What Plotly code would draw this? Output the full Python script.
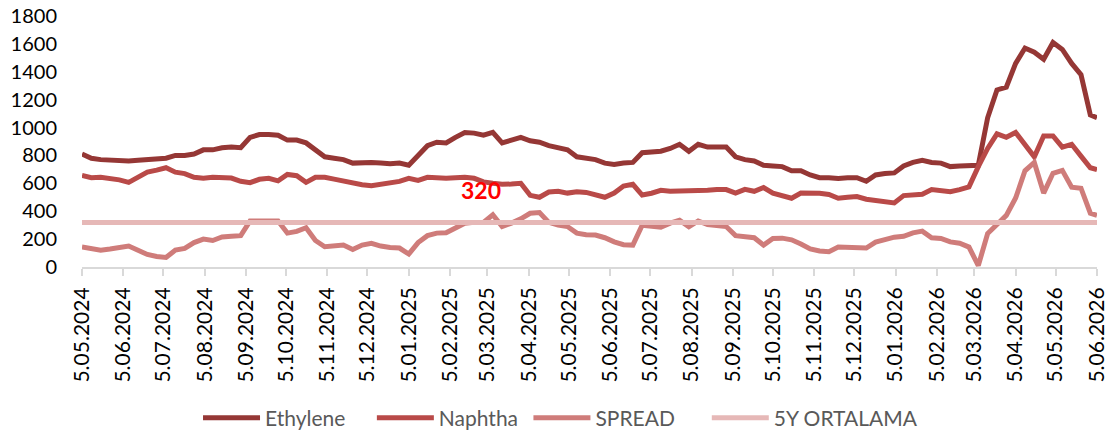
import pandas as pd
import plotly.graph_objects as go

# weekly observations starting 5 May 2024, plus final observation 5 Jun 2026
dates = list(pd.date_range("2024-05-05", periods=109, freq="7D")) + [pd.Timestamp("2026-06-05")]

ethylene = [810, 780, 770, 765, 760, 760, 765, 770, 770, 780,
            800, 800, 810, 840, 840, 855, 860, 855, 930, 950,
            950, 945, 910, 910, 890, 840, 790, 780, 770, 745,
            750, 750, 745, 740, 745, 730, 800, 870, 895, 890,
            930, 965, 960, 945, 965, 890, 910, 930, 905, 895,
            870, 855, 840, 790, 780, 770, 745, 735, 745, 750,
            820, 825, 830, 850, 880, 830, 880, 860, 860, 860,
            790, 770, 760, 730, 725, 720, 690, 690, 660, 640,
            640, 635, 640, 640, 615, 660, 670, 675, 725, 750,
            765, 750, 745, 720, 725, 725, 730, 1070, 1270, 1290,
            1460, 1570, 1540, 1490, 1610, 1560, 1460, 1380, 1090, 1070]

naphtha = [657, 640, 643, 635, 625, 607, 645, 680, 695, 712,
           680, 670, 643, 636, 643, 640, 638, 615, 605, 629,
           636, 618, 664, 655, 607, 643, 643, 630, 615, 605,
           590, 582, 595, 600, 614, 636, 621, 643, 638, 636,
           640, 643, 636, 610, 600, 593, 595, 600, 514, 500,
           538, 543, 530, 540, 535, 515, 500, 530, 580, 593,
           516, 529, 550, 543, 543, 543, 543, 550, 555, 555,
           530, 557, 543, 570, 530, 515, 493, 530, 530, 529,
           520, 493, 500, 505, 486, 480, 470, 460, 512, 514,
           521, 555, 543, 540, 555, 575, 720, 850, 955, 930,
           965, 880, 790, 940, 940, 860, 880, 795, 712, 698]

spread = [143, 130, 121, 129, 140, 150, 120, 90, 75, 68,
          121, 133, 175, 200, 190, 215, 220, 225, 330, 330,
          325, 330, 243, 255, 282, 190, 145, 150, 157, 125,
          157, 170, 150, 140, 136, 93, 175, 225, 243, 245,
          275, 314, 320, 320, 375, 290, 315, 345, 385, 390,
          320, 300, 290, 243, 232, 229, 210, 180, 160, 157,
          300, 293, 285, 314, 336, 288, 330, 305, 300, 290,
          225, 214, 210, 157, 205, 207, 195, 165, 130, 115,
          110, 143, 138, 136, 136, 178, 200, 214, 220, 245,
          257, 210, 205, 180, 170, 143, 10, 240, 305, 370,
          495, 690, 750, 530, 672, 693, 572, 565, 386, 371]

avg_5y = [320] * len(dates)
avg_label = "320"

tick_dates = list(pd.date_range("2024-05-01", periods=26, freq="MS") + pd.Timedelta(days=4))
tick_labels = [d.strftime("%-d.%m.%Y") for d in tick_dates]

names = ["Ethylene", "Naphtha", "SPREAD", "5Y ORTALAMA"]
legend_pad = [4, 1, 5, 0]  # trailing non-breaking spaces for legend spacing
colors = ["#953735", "#B94A48", "#CF7C7A", "#E6B8B7"]
series = [ethylene, naphtha, spread, avg_5y]

FONT = "Lato, Open Sans, sans-serif"

fig = go.Figure()
for name, pad, vals, col in zip(names, legend_pad, series, colors):
    fig.add_trace(go.Scatter(x=dates, y=vals, name=name + "\u00a0" * pad, mode="lines",
                             line=dict(color=col, width=5)))

fig.add_annotation(x="2025-02-28", y=550, text="<b>" + avg_label + "</b>",
                   showarrow=False, font=dict(color="#FF0000", size=23, family=FONT))

fig.update_layout(
    width=1115, height=437,
    margin=dict(l=82, r=18, t=16, b=170, autoexpand=False),
    plot_bgcolor="white", paper_bgcolor="white",
    font=dict(family=FONT, size=20, color="#000000"),
    showlegend=True,
    legend=dict(orientation="h", xref="container", yref="container", x=0.1776, y=0.0435,
                xanchor="left", yanchor="middle", font=dict(color="#595959", size=21),
                itemwidth=57, traceorder="normal"),
)
fig.update_xaxes(range=["2024-05-05", "2026-06-05"], tickvals=tick_dates, ticktext=tick_labels,
                 tickangle=-90, showgrid=False, showline=True, linecolor="#D9D9D9", linewidth=2,
                 ticks="outside", ticklen=7, tickcolor="#D9D9D9", tickwidth=2, automargin=False,
                 tickfont=dict(size=21, color="#000000"), zeroline=False, ticklabelstandoff=3,
                 ticklabeloverflow="allow")
fig.update_yaxes(range=[0, 1800], dtick=200, showgrid=False, zeroline=False, showline=False,
                 automargin=False, tickfont=dict(size=20, color="#000000"), ticklabelstandoff=24,
                 ticklabeloverflow="allow")

fig.write_html("out.html", config={"displayModeBar": False},
               post_script="document.body.style.margin='0';document.body.style.padding='0';")
